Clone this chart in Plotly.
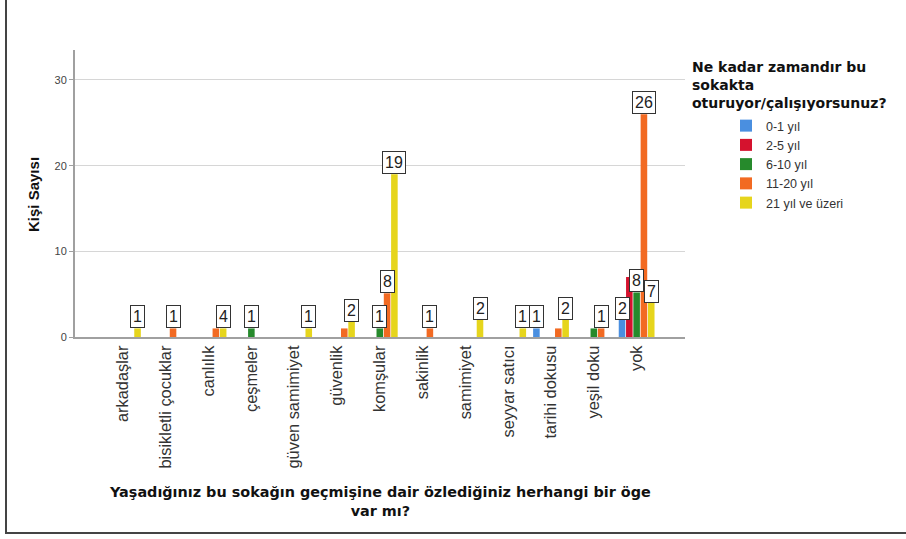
import plotly.graph_objects as go

categories = ["arkadaşlar", "bisikletli çocuklar", "canlılık", "çeşmeler",
              "güven samimiyet", "güvenlik", "komşular", "sakinlik",
              "samimiyet", "seyyar satıcı", "tarihi dokusu", "yeşil doku", "yok"]

series_names = ["0-1 yıl", "2-5 yıl", "6-10 yıl", "11-20 yıl", "21 yıl ve üzeri"]
series_colors = ["#4a8fe0", "#d5122e", "#268a2c", "#f26a22", "#e6d51c"]

# bar heights as drawn
v_0_1 = [0, 0, 0, 0, 0, 0, 0, 0, 0, 0, 1, 0, 2]
v_2_5 = [0, 0, 0, 0, 0, 0, 0, 0, 0, 0, 0, 0, 7]
v_6_10 = [0, 0, 0, 1, 0, 0, 1, 0, 0, 0, 0, 1, 5.2]
v_11_20 = [0, 1, 1, 0, 0, 1, 5.1, 1, 0, 0, 1, 1, 26]
v_21 = [1, 0, 1, 0, 1, 1.8, 19, 0, 2, 1, 2, 0, 4]

# boxed labels as printed on the chart ("" = no label shown)
l_0_1 = ["", "", "", "", "", "", "", "", "", "", "1", "", "2"]
l_2_5 = ["", "", "", "", "", "", "", "", "", "", "", "", ""]
l_6_10 = ["", "", "", "1", "", "", "1", "", "", "", "", "", "8"]
l_11_20 = ["", "1", "", "", "", "", "8", "1", "", "", "", "1", "26"]
l_21 = ["1", "", "4", "", "1", "2", "19", "", "2", "1", "2", "", "7"]

values = [v_0_1, v_2_5, v_6_10, v_11_20, v_21]
labels = [l_0_1, l_2_5, l_6_10, l_11_20, l_21]

y_ticks = [0, 10, 20, 30]

FONT = "Liberation Sans, Arial, sans-serif"
TITLE_FONT = "DejaVu Sans, Liberation Sans, sans-serif"
BARGAP = 0.147
n_series = len(series_names)
slot = (1 - BARGAP) / n_series
xs = list(range(len(categories)))

fig = go.Figure()
for k in range(n_series):
    fig.add_trace(go.Bar(
        x=xs, y=values[k], name=series_names[k],
        marker=dict(color=series_colors[k], line=dict(width=0)),
        hoverinfo="x+y+name",
    ))

annotations = []
for k in range(n_series):
    for i, t in enumerate(labels[k]):
        if t:
            annotations.append(dict(
                x=i + (k - (n_series - 1) / 2) * slot, y=values[k][i],
                xref="x", yref="y", text=t, showarrow=False,
                yanchor="bottom", xanchor="center",
                font=dict(family=FONT, size=16, color="#222"),
                bgcolor="white", bordercolor="#333", borderwidth=1, borderpad=2,
            ))

# axis titles and legend title
annotations.append(dict(
    x=(33 - 75) / 610, y=(337 - 195) / 287, xref="paper", yref="paper",
    text="<b>Kişi Sayısı</b>", textangle=-90, showarrow=False,
    xanchor="center", yanchor="middle",
    font=dict(family=FONT, size=15, color="#111")))
annotations.append(dict(
    x=(380 - 75) / 610, y=(337 - 501) / 287, xref="paper", yref="paper",
    text="<b>Yaşadığınız bu sokağın geçmişine dair özlediğiniz herhangi bir öge<br>var mı?</b>",
    showarrow=False, xanchor="center", yanchor="middle",
    font=dict(family=TITLE_FONT, size=14.4, color="#111")))
annotations.append(dict(
    x=(690 - 75) / 610, y=(337 - 57) / 287, xref="paper", yref="paper",
    text="<b>Ne kadar zamandır bu<br>sokakta<br>oturuyor/çalışıyorsunuz?</b>",
    showarrow=False, xanchor="left", yanchor="top", align="left",
    font=dict(family=TITLE_FONT, size=14, color="#111")))

# outer frame (left and bottom edges visible)
shapes = [dict(type="rect", xref="paper", yref="paper",
               x0=(6 - 75) / 610, x1=(920 - 75) / 610,
               y0=(337 - 533) / 287, y1=(337 + 10) / 287,
               line=dict(color="#444", width=2), fillcolor="rgba(0,0,0,0)", layer="below")]

fig.update_layout(
    width=906, height=539,
    margin=dict(l=75, r=221, t=50, b=202),
    paper_bgcolor="white", plot_bgcolor="white",
    barmode="group", bargap=BARGAP, bargroupgap=0.1,
    font=dict(family=FONT, color="#333"),
    showlegend=True,
    legend=dict(x=(726 - 75) / 610, y=(337 - 111) / 287, xanchor="left", yanchor="top",
                font=dict(family=FONT, size=12.5, color="#333"),
                bgcolor="rgba(0,0,0,0)", itemwidth=30, tracegroupgap=0),
    xaxis=dict(
        tickmode="array", tickvals=xs, ticktext=categories,
        range=[-1.12, 13.13], tickangle=-90,
        tickfont=dict(family=FONT, size=16.4, color="#333"),
        showgrid=False, zeroline=False,
        showline=True, linecolor="#a0a0a0", linewidth=2,
        ticks="", ticklen=0,
    ),
    yaxis=dict(
        range=[0, 33.5], tickvals=y_ticks,
        tickfont=dict(family=FONT, size=11, color="#444"),
        showgrid=True, gridcolor="#d6d6d6", gridwidth=1,
        zeroline=False, showline=True, linecolor="#a0a0a0", linewidth=2,
        ticks="outside", ticklen=4, tickcolor="#a0a0a0",
    ),
    annotations=annotations,
    shapes=shapes,
)

fig.write_html("out.html", config={"displayModeBar": False},
               post_script="document.body.style.margin='0';")
